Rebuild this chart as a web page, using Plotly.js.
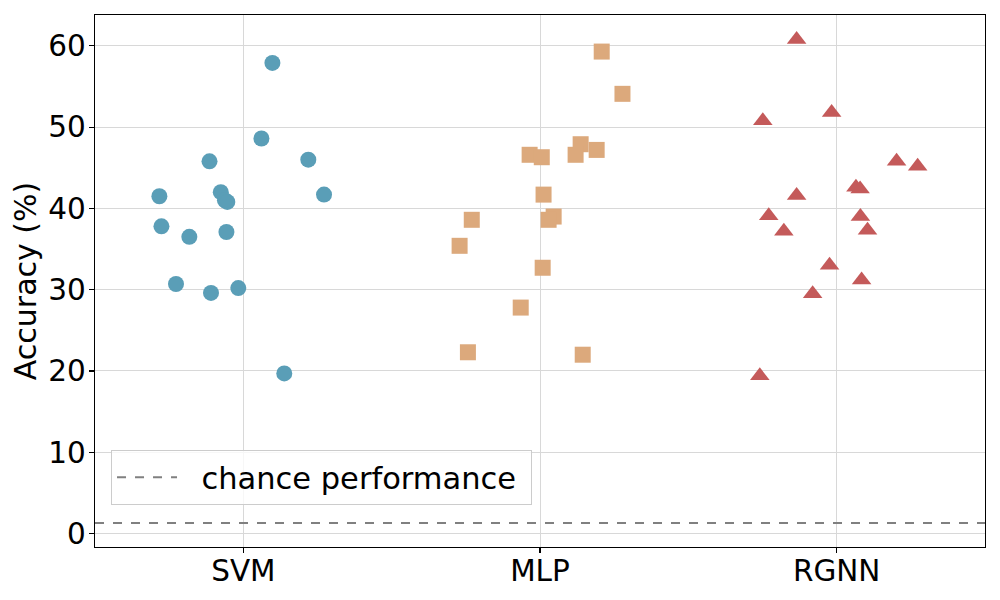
<!DOCTYPE html>
<html>
<head>
<meta charset="utf-8">
<script src="https://cdn.plot.ly/plotly-3.0.1.min.js"></script>
<style>html,body{margin:0;padding:0;background:#fff;}#chart{width:1000px;height:600px;}</style>
</head>
<body>
<div id="chart"></div>
<script>
// Categories (tick labels)
const categories = ["SVM", "MLP", "RGNN"];

// Accuracy values (%)
const svmValues  = [57.9, 48.6, 45.8, 46.0, 41.5, 42.0, 41.0, 40.8, 41.7, 37.8, 36.5, 37.1, 30.7, 29.6, 30.2, 19.7];
const mlpValues  = [59.3, 54.1, 47.9, 47.2, 46.6, 46.6, 46.3, 41.7, 39.0, 38.6, 38.6, 35.4, 32.7, 27.8, 22.3, 22.0];
const rgnnValues = [60.8, 50.8, 51.8, 45.8, 45.2, 42.6, 42.4, 41.6, 39.1, 39.0, 37.2, 37.3, 33.0, 31.2, 29.5, 19.4];

// Horizontal jitter of each point (category units)
const svmJitter  = [0.098, 0.061, -0.114, 0.219, -0.283, -0.076, -0.062, -0.054, 0.272, -0.276, -0.182, -0.057, -0.227, -0.109, -0.017, 0.138];
const mlpJitter  = [0.208, 0.278, 0.137, 0.191, 0.120, -0.035, 0.006, 0.012, 0.046, 0.029, -0.230, -0.271, 0.009, -0.065, -0.243, 0.144];
const rgnnJitter = [-0.135, -0.249, -0.017, 0.202, 0.273, 0.065, 0.079, -0.135, -0.229, 0.080, -0.178, 0.104, -0.024, 0.084, -0.081, -0.259];

// Chance level (%)
const chanceLevel = 1.3;
const chanceLabel = "chance performance";

const FONT = "DejaVu Sans, sans-serif";
const series = [
  {vals: svmValues,  jit: svmJitter,  idx: 0, color: "#5a9eb7", symbol: "circle",      size: 16},
  {vals: mlpValues,  jit: mlpJitter,  idx: 1, color: "#dca97c", symbol: "square",      size: 16},
  {vals: rgnnValues, jit: rgnnJitter, idx: 2, color: "#c45a5a", symbol: "triangle-up", size: 17}
];

const traces = series.map((s, k) => ({
  type: "scatter",
  mode: "markers",
  name: categories[k],
  x: s.jit.map(j => s.idx + j),
  y: s.vals,
  showlegend: false,
  marker: {color: s.color, symbol: s.symbol, size: s.size, line: {width: 0}},
  hoverinfo: "y"
}));

const layout = {
  width: 1000, height: 600,
  margin: {l: 95, r: 15, t: 15, b: 53, pad: 0},
  paper_bgcolor: "#fff", plot_bgcolor: "#fff",
  font: {family: FONT, size: 29, color: "#000"},
  showlegend: true,
  xaxis: {
    range: [-0.5, 2.5],
    tickmode: "array",
    tickvals: categories.map((c, i) => i),
    ticktext: categories,
    showgrid: true, gridcolor: "#d8d8d8", gridwidth: 1,
    zeroline: false,
    showline: true, linecolor: "#000", linewidth: 1.2, mirror: true,
    ticks: "outside", ticklen: 5, tickcolor: "#000", tickwidth: 1.2,
    ticklabelstandoff: -8,
    tickfont: {family: FONT, size: 29.5, color: "#000"}
  },
  yaxis: {
    range: [-1.66, 63.8],
    tickmode: "array",
    tickvals: [0, 10, 20, 30, 40, 50, 60],
    showgrid: true, gridcolor: "#d8d8d8", gridwidth: 1,
    zeroline: false,
    showline: true, linecolor: "#000", linewidth: 1.2, mirror: true,
    ticks: "outside", ticklen: 5, tickcolor: "#000", tickwidth: 1.2,
    ticklabelstandoff: -3,
    tickfont: {family: FONT, size: 29.5, color: "#000"},
    title: {text: "Accuracy (%)", font: {family: FONT, size: 30, color: "#000"}, standoff: 2}
  },
  shapes: [{
    type: "line", xref: "paper", x0: 0, x1: 1, yref: "y", y0: chanceLevel, y1: chanceLevel,
    line: {color: "#808080", width: 2, dash: "dash"},
    showlegend: true, name: "\u00a0\u00a0" + chanceLabel + "\u00a0", layer: "above"
  }],
  legend: {
    x: 0.018, y: 0.079, xanchor: "left", yanchor: "bottom",
    bgcolor: "rgba(255,255,255,0.8)", bordercolor: "#cccccc", borderwidth: 1,
    font: {family: FONT, size: 30.5, color: "#000"},
    itemwidth: 60
  }
};

Plotly.newPlot("chart", traces, layout, {displayModeBar: false, staticPlot: true});
</script>
</body>
</html>
